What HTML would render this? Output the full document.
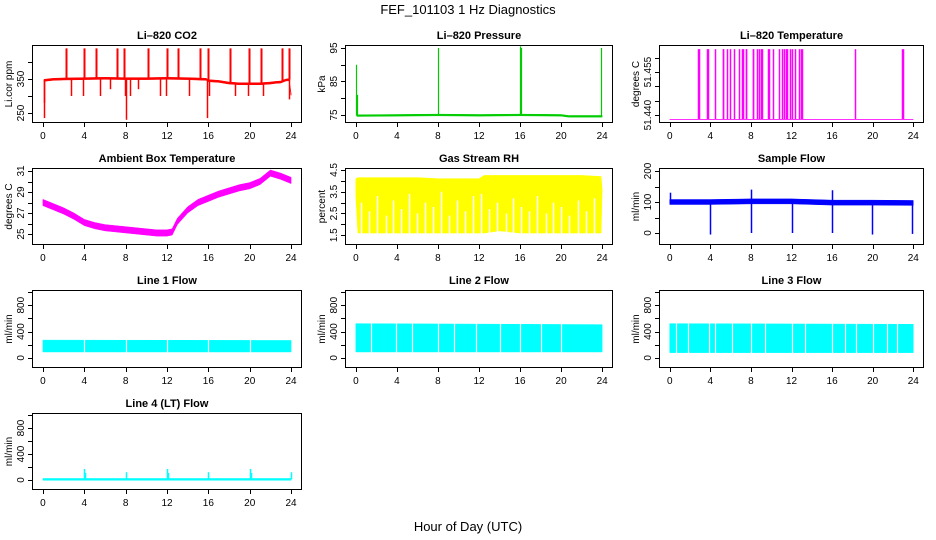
<!DOCTYPE html>
<html><head><meta charset="utf-8"><style>
html,body{margin:0;padding:0;background:#fff}
svg{display:block;font-family:"Liberation Sans",sans-serif}
</style></head><body>
<svg id="fig" width="936" height="540" viewBox="0 0 936 540" xmlns="http://www.w3.org/2000/svg">
<text x="468" y="14" text-anchor="middle" font-size="13">FEF_101103  1 Hz Diagnostics</text>
<text x="468" y="531" text-anchor="middle" font-size="13">Hour of Day (UTC)</text>
</svg>
<script>
const xTicks=[0,4,8,12,16,20,24];
// CO2
const co2Hours=[0.1,1,2,4,6,8,10,12,14,15.8,16,17,18,19,20,21,22,22.5,23,23.5,23.8,24];
const co2Base=[346,349,350,351,352,351,351,352,351,349,345,343,338,336,336,336,338,340,341,347,348,305];
const co2UpHours=[2.2,3.95,5.1,7.2,7.8,10.2,12,13.1,15.2,16,18.1,19.9,21.1,23.1,23.8];
const co2UpVals=[440,440,440,440,440,440,440,440,440,440,440,440,440,440,440];
const co2DownHours=[0.1,0.15,2.7,3.9,5.5,6.5,7.9,8.0,8.4,9.2,11.3,11.9,14.1,15.9,16.1,18.6,19.8,21.3,23.8];
const co2DownVals=[235,280,300,300,300,320,300,230,300,320,300,300,300,235,300,300,300,300,290];
// Pressure
const prHours=[0.1,4,8,12,16,20,20.7,24];
const prBase=[74.8,74.9,75.0,74.9,75.0,74.9,74.6,74.6];
const prSpikeHours=[0.05,0.12,8,16,16.05,23.9];
const prSpikeVals=[90,81,95,95.5,95,95];
// Li-820 temperature
const tmpHours=[0,24];
const tmpBase=[51.4385,51.4385];
const tmpSpikeHours=[2.8,2.85,3.7,3.75,4.5,5.2,5.25,5.6,5.9,6.3,6.8,7.1,7.2,7.5,7.55,8.2,8.25,8.6,8.8,9.0,9.1,9.7,9.8,10.2,10.8,11.1,11.3,11.5,11.6,11.9,12.0,12.3,12.7,12.9,13.0,18.3,22.9,23.0];
const tmpSpikeVals=tmpSpikeHours.map(()=>51.4630);
// Ambient
const ambHours=[0,1,2,3,4,5,6,7,8,9,10,11,12,12.5,13,14,15,16,17,18,19,20,21,21.5,22,23,24];
const ambVals=[28.0,27.6,27.2,26.7,26.1,25.8,25.6,25.5,25.4,25.3,25.2,25.1,25.1,25.2,26.2,27.3,28.0,28.4,28.8,29.1,29.4,29.6,30.0,30.4,30.8,30.5,30.1];
// RH
const rhHours=[0,0.2,2,4,6,8,10,12,12.5,14,16,18,20,22,23.9,24];
const rhHi=[4.1,4.15,4.15,4.15,4.15,4.1,4.1,4.1,4.25,4.25,4.25,4.25,4.25,4.25,4.2,3.6];
const rhLo=[3.3,1.6,1.6,1.6,1.6,1.6,1.6,1.6,1.6,1.7,1.6,1.6,1.6,1.6,1.6,3.6];
const rhGapHours=[0.5,1.3,2.1,2.9,3.6,4.4,5.2,6.0,6.7,7.5,8.3,9.1,9.9,10.6,11.4,12.2,13.0,13.8,14.6,15.3,16.1,16.9,17.7,18.5,19.2,20.0,20.8,21.6,22.4,23.2];
const rhGapTops=[3.0,2.6,3.3,2.4,3.1,2.7,3.4,2.5,3.0,2.8,3.5,2.4,3.1,2.6,3.3,3.4,2.7,3.0,2.5,3.2,2.8,2.6,3.3,2.5,3.0,2.8,2.4,3.1,2.6,3.2];
// Sample flow
const sfHours=[0,4,8,12,16,20,24];
const sfBase=[100,100,102,102,98,98,97];
const sfSpikeHours=[0.05,3.95,8,8.02,12,15.95,16,19.9,23.9];
const sfSpikeVals=[130,-5,0,140,0,138,0,-5,-3];
// Line flows
const l1Lo=[90,90], l1Hi=[270,265]; const l1Gaps=[4,8,12,16,20];
const l2Lo=[90,90], l2Hi=[520,505]; const l2Gaps=[1.5,3.9,5.5,8,9.6,11.7,14,16,18,20];
const l3Lo=[80,80], l3Hi=[520,510]; const l3Gaps=[0.6,1.8,3.9,4.5,6.1,8,9.4,12,13.3,16,17.3,18.4,20,21.4,22.4];
const l4Base=[10,10]; const flowHours=[0,24];
const l4SpikeHours=[4,4.1,8,12,12.1,16,20,20.1,24];
const l4SpikeVals=[170,110,120,170,110,120,170,110,120];

const NS='http://www.w3.org/2000/svg';
const svg=document.getElementById('fig');
function mk(tag,a,parent){const e=document.createElementNS(NS,tag);for(const k in a)e.setAttribute(k,a[k]);(parent||svg).appendChild(e);return e;}
const cols=[[33,301],[346,612],[660,923]];
const rows=[[46,122],[169,244],[291,367],[414,489]];

const panels=[
 {id:'co2',title:'Li–820 CO2',ylab:'Li.cor ppm',c:0,r:0,ymin:223.5,ymax:447,ticks:[250,300,350,400],labels:[250,null,350,null],color:'#ff0000'},
 {id:'pressure',title:'Li–820 Pressure',ylab:'kPa',c:1,r:0,ymin:72.9,ymax:95.6,ticks:[75,80,85,90,95],labels:[75,null,85,null,95],color:'#00cc00'},
 {id:'li820-temp',title:'Li–820 Temperature',ylab:'degrees C',c:2,r:0,ymin:51.4376,ymax:51.4641,ticks:[51.440,51.445,51.450,51.455,51.460],labels:['51.440',null,null,'51.455',null],color:'#ff00ff'},
 {id:'ambient',title:'Ambient Box Temperature',ylab:'degrees C',c:0,r:1,ymin:24.05,ymax:31.19,ticks:[25,26,27,28,29,30,31],labels:[25,null,27,null,29,null,31],color:'#ff00ff'},
 {id:'rh',title:'Gas Stream RH',ylab:'percent',c:1,r:1,ymin:1.097,ymax:4.545,ticks:[1.5,2,2.5,3,3.5,4,4.5],labels:['1.5',null,'2.5',null,'3.5',null,'4.5'],color:'#ffff00'},
 {id:'sample-flow',title:'Sample Flow',ylab:'ml/min',c:2,r:1,ymin:-35.5,ymax:206.5,ticks:[0,50,100,150,200],labels:[0,null,100,null,200],color:'#0000ff'},
 {id:'line1',title:'Line 1 Flow',ylab:'ml/min',c:0,r:2,ymin:-138,ymax:1015,ticks:[0,200,400,600,800,1000],labels:[0,null,400,null,800,null],color:'#00ffff'},
 {id:'line2',title:'Line 2 Flow',ylab:'ml/min',c:1,r:2,ymin:-138,ymax:1015,ticks:[0,200,400,600,800,1000],labels:[0,null,400,null,800,null],color:'#00ffff'},
 {id:'line3',title:'Line 3 Flow',ylab:'ml/min',c:2,r:2,ymin:-138,ymax:1015,ticks:[0,200,400,600,800,1000],labels:[0,null,400,null,800,null],color:'#00ffff'},
 {id:'line4',title:'Line 4 (LT) Flow',ylab:'ml/min',c:0,r:3,ymin:-138,ymax:1015,ticks:[0,200,400,600,800,1000],labels:[0,null,400,null,800,null],color:'#00ffff'}
];

function interp(hs,vs,h){if(h<=hs[0])return vs[0];for(let i=1;i<hs.length;i++){if(h<=hs[i]){const t=(h-hs[i-1])/(hs[i]-hs[i-1]);return vs[i-1]+t*(vs[i]-vs[i-1]);}}return vs[vs.length-1];}

panels.forEach(p=>{
 const [L,R]=cols[p.c],[T,B]=rows[p.r];
 const g=mk('g',{});
 
 
 p.x=h=>L+(R-L)*(0.96+h)/25.92;
 p.y=v=>B-(B-T)*(v-p.ymin)/(p.ymax-p.ymin);
 p.g=g;
 const t=mk('text',{x:(L+R)/2,y:T-7,'text-anchor':'middle','font-size':11,'font-weight':'bold'},g);
 t.textContent=p.title;
 
 
 const xa=mk('g',{stroke:'#000','stroke-width':1},g);
 
 
 mk('line',{x1:p.x(0),x2:p.x(24),y1:B+0.5,y2:B+0.5},xa);
 xTicks.forEach(h=>{
  mk('line',{x1:Math.round(p.x(h))+0.5,x2:Math.round(p.x(h))+0.5,y1:B,y2:B+5},xa);
  const tl=mk('text',{x:p.x(h),y:B+17,'text-anchor':'middle','font-size':10,stroke:'none'},xa);
  tl.textContent=h;
  
  
 });
 const ya=mk('g',{stroke:'#000','stroke-width':1},g);
 
 
 mk('line',{x1:L-0.5,x2:L-0.5,y1:p.y(p.ticks[0]),y2:p.y(p.ticks[p.ticks.length-1])},ya);
 p.ticks.forEach((v,i)=>{
  const yy=Math.round(p.y(v))+0.5;
  mk('line',{x1:L-5,x2:L,y1:yy,y2:yy},ya);
  if(p.labels[i]!==null){
   const tl=mk('text',{x:L-9,y:p.y(v),'text-anchor':'middle','font-size':10,stroke:'none',transform:`rotate(-90 ${L-9} ${p.y(v)})`},ya);
   tl.textContent=p.labels[i];
   
   
  }
 });
 const yl=mk('text',{x:L-21,y:(T+B)/2,'text-anchor':'middle','font-size':10,transform:`rotate(-90 ${L-21} ${(T+B)/2})`},g);
 yl.textContent=p.ylab;
 
 
});
const P={};panels.forEach(p=>P[p.id]=p);

function band(p,hs,lo,hi,name){
 let pts=[];for(let i=0;i<hs.length;i++)pts.push(p.x(hs[i])+','+p.y(hi[i]));
 for(let i=hs.length-1;i>=0;i--)pts.push(p.x(hs[i])+','+p.y(lo[i]));
 const e=mk('polygon',{points:pts.join(' '),fill:p.color,stroke:p.color,'stroke-width':0.5},p.g);
 
 
}
function bandAround(p,hs,vs,hw,name){band(p,hs,vs.map(v=>v-hw),vs.map(v=>v+hw),name);}
function spikes(p,hs,vs,baseH,baseV,name,w){
 hs.forEach((h,i)=>{
  const x=Math.round(p.x(h))+0.5;
  const e=mk('line',{x1:x,x2:x,y1:p.y(interp(baseH,baseV,h)),y2:p.y(vs[i]),stroke:p.color,'stroke-width':w||1.5},p.g);
  
  
 });
}
function gaps(p,hs,name){
 hs.forEach(h=>{
  const x=Math.round(p.x(h))+0.5;
  const e=mk('line',{x1:x,x2:x,y1:p.y(p.ymax*0.6),y2:p.y(50),stroke:'#fff','stroke-width':1.2},p.g);
  
  
 });
}

bandAround(P.co2,co2Hours,co2Base,3,'co2-series');
spikes(P.co2,co2UpHours,co2UpVals,co2Hours,co2Base,'co2-up-spike',2);
spikes(P.co2,co2DownHours,co2DownVals,co2Hours,co2Base,'co2-down-spike',1.5);

bandAround(P.pressure,prHours,prBase,0.25,'pressure-series');
spikes(P.pressure,prSpikeHours,prSpikeVals,prHours,prBase,'pressure-spike',1.2);

bandAround(P['li820-temp'],tmpHours,tmpBase,0.00005,'li820-temp-series');
spikes(P['li820-temp'],tmpSpikeHours,tmpSpikeVals,tmpHours,tmpBase,'li820-temp-spike',1.5);

bandAround(P.ambient,ambHours,ambVals,0.3,'ambient-series');

band(P.rh,rhHours,rhLo,rhHi,'rh-series');
rhGapHours.forEach((h,i)=>{
 const p=P.rh;const x=Math.round(p.x(h))+0.5;
 const e=mk('line',{x1:x,x2:x,y1:p.y(1.55),y2:p.y(rhGapTops[i]),stroke:'#fff','stroke-width':1.5},p.g);
 
 
});

bandAround(P['sample-flow'],sfHours,sfBase,8,'sample-flow-series');
spikes(P['sample-flow'],sfSpikeHours,sfSpikeVals,sfHours,sfBase,'sample-flow-spike',1.5);

band(P.line1,flowHours,l1Lo,l1Hi,'line1-series');
gaps(P.line1,l1Gaps,'line1-gap');
band(P.line2,flowHours,l2Lo,l2Hi,'line2-series');
gaps(P.line2,l2Gaps,'line2-gap');
band(P.line3,flowHours,l3Lo,l3Hi,'line3-series');
gaps(P.line3,l3Gaps,'line3-gap');
bandAround(P.line4,flowHours,l4Base,14,'line4-series');
spikes(P.line4,l4SpikeHours,l4SpikeVals,flowHours,l4Base,'line4-spike',1.5);

panels.forEach(p=>{
 const [L,R]=cols[p.c],[T,B]=rows[p.r];
 const b=mk('rect',{x:L-0.5,y:T-0.5,width:R-L+1,height:B-T+1,fill:'none',stroke:'#000','stroke-width':1},p.g);
 
 
});
</script>
</body></html>
